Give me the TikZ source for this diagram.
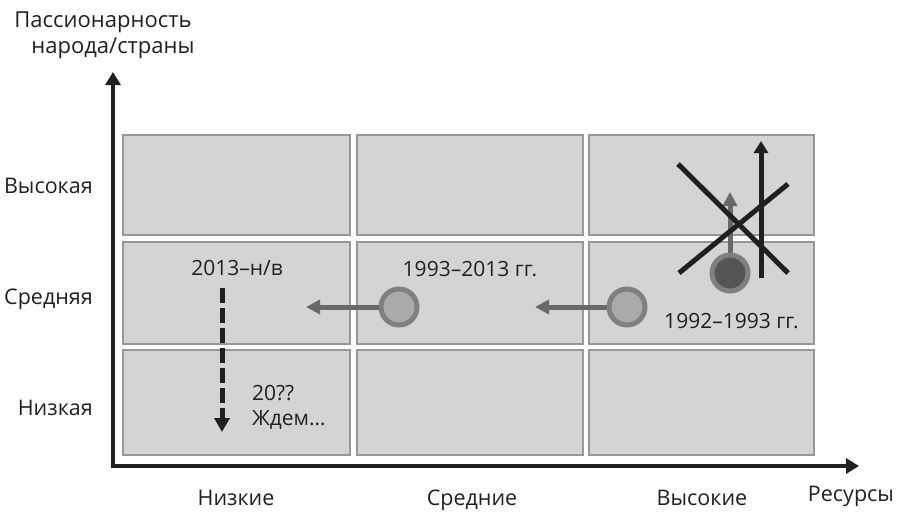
\documentclass[tikz,border=0pt]{standalone}
\usepackage{fontspec}
\setmainfont{Open Sans}
\usetikzlibrary{arrows.meta}
\definecolor{txt}{RGB}{35,31,32}
\definecolor{cellfill}{RGB}{211,212,214}
\definecolor{celldraw}{RGB}{150,151,153}
\definecolor{ring}{RGB}{128,128,130}
\definecolor{lightdot}{RGB}{170,170,173}
\definecolor{darkdot}{RGB}{85,85,88}
\definecolor{garrow}{RGB}{105,105,108}
\begin{document}
\begin{tikzpicture}[x=1pt,y=-1pt,
  cell/.style={draw=celldraw,fill=cellfill,line width=1.5pt},
  lbl/.style={text=txt,font=\fontsize{21.5}{26}\selectfont,inner sep=0pt,anchor=base},
  ctxt/.style={lbl,font=\fontsize{21}{25}\selectfont},
  axis/.style={draw=txt,line width=4pt,-{Triangle[length=13pt,width=15pt]}},
  garr/.style={draw=garrow,line width=5pt,-{Triangle[length=14pt,width=14pt]}},
  dot/.style={circle,draw=ring,line width=5pt,minimum size=36pt,inner sep=0pt},
  cross/.style={draw=txt,line width=5pt}]
\path[use as bounding box] (0,0) rectangle (901,511);
% cells
\foreach \xa/\xb/\c in {123/350/1,357/583/2,589/814/3}{
  \foreach \ya/\yb/\r in {135/235/1,242/344/2,350/455/3}{
    \path[cell] (\xa,\ya) rectangle (\xb,\yb);
  }
}
% axes
\coordinate (org) at (113,466);
\coordinate (ytop) at (113,72);
\coordinate (xend) at (859,466);
\draw[axis] (113,468) -- (ytop);
\draw[axis] (111,466) -- (xend);
% axis titles
\node[lbl,font=\fontsize{22}{26}\selectfont] (ytitle1) at (103,28) {Пассионарность};
\node[lbl,font=\fontsize{22}{26}\selectfont] (ytitle2) at (113,54) {народа/страны};
\node[lbl] (xtitle) at (851,501) {Ресурсы};
% row labels
\node[lbl,anchor=base east] (rhi) at (93,193) {Высокая};
\node[lbl,anchor=base east] (rmid) at (93,304) {Средняя};
\node[lbl,anchor=base east] (rlow) at (93,415) {Низкая};
% column labels
\node[lbl] (clow) at (236,505) {Низкие};
\node[lbl] (cmid) at (472,505) {Средние};
\node[lbl] (chi) at (702,505) {Высокие};
% cell texts
\node[ctxt] (t1) at (237,275) {2013–н/в};
\node[ctxt] (t2) at (470,276) {1993–2013 гг.};
\node[ctxt] (t3) at (731.5,328) {1992–1993 гг.};
\node[ctxt,anchor=base west] (t4) at (252,400) {20??};
\node[ctxt,anchor=base west] (t5) at (252,425) {Ждем…};
% dots
\node[dot,fill=lightdot] (d1) at (627,307) {};
\node[dot,fill=lightdot] (d2) at (399,307) {};
\node[dot,fill=darkdot] (d3) at (730,273) {};
\coordinate (a1) at (535,307);
\coordinate (a2) at (306,307);
\coordinate (a3) at (730,192);
\draw[garr] (d1.west) -- (a1);
\draw[garr] (d2.west) -- (a2);
\draw[garr] (d3.north) -- (a3);
% black arrow and cross
\coordinate (b0) at (761,278);
\coordinate (b1) at (761,141);
\draw[draw=txt,line width=5pt,-{Triangle[length=12pt,width=14pt]}] (b0) -- (b1);
\coordinate (c1) at (678,164);
\coordinate (c2) at (788,273);
\coordinate (c3) at (679,273);
\coordinate (c4) at (788,184);
\draw[cross] (c1) -- (c2);
\draw[cross] (c3) -- (c4);
% dashed arrow
\coordinate (e0) at (222,288);
\coordinate (e1) at (222,432);
\draw[draw=txt,line width=5pt,dash pattern=on 15pt off 5pt,-{Triangle[length=14pt,width=15pt]}] (e0) -- (e1);
\end{tikzpicture}
\end{document}
